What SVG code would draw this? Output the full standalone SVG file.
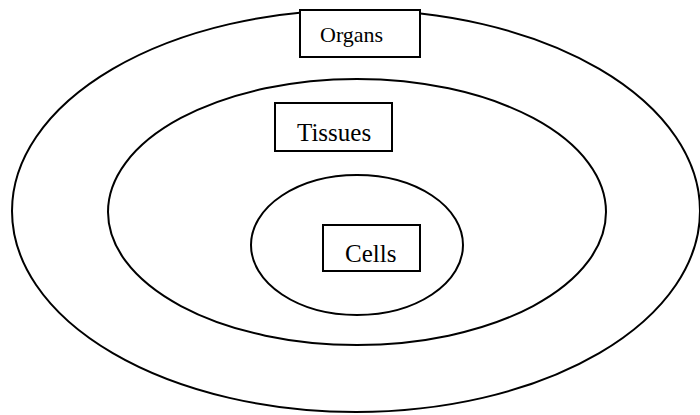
<svg xmlns="http://www.w3.org/2000/svg" width="700" height="415" viewBox="0 0 700 415">
<style>
.ring{fill:none;stroke:#000;stroke-width:2}
.box{fill:#fff;stroke:#000;stroke-width:2}
.lbl{font-family:"Liberation Serif","Times New Roman",serif;font-size:25px;fill:#000}
.sm{font-size:22px}
</style>
<rect width="700" height="415" fill="#fff"/>
<g id="rings">
<ellipse id="organs-ring" class="ring" cx="356" cy="211" rx="344" ry="201"/>
<ellipse id="tissues-ring" class="ring" cx="357" cy="212" rx="249" ry="133"/>
<ellipse id="cells-ring" class="ring" cx="357" cy="245" rx="106" ry="70"/>
</g>
<g id="organs"><rect class="box" x="300" y="10" width="120" height="47"/><text class="lbl sm" x="320" y="42">Organs</text></g>
<g id="tissues"><rect class="box" x="275" y="103" width="117" height="48"/><text class="lbl" x="297" y="141">Tissues</text></g>
<g id="cells"><rect class="box" x="323" y="225" width="97" height="46"/><text class="lbl" x="345" y="262">Cells</text></g>
<g id="connectors"/>
</svg>
